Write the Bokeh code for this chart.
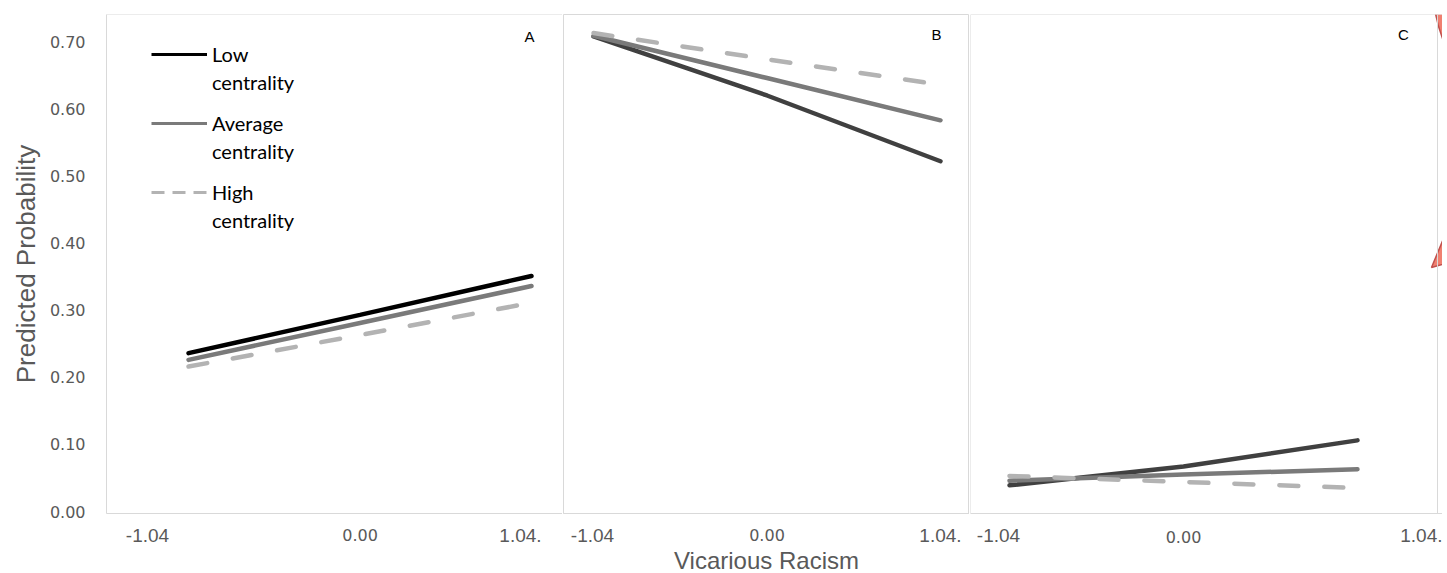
from bokeh.plotting import figure
from bokeh.layouts import row
from bokeh.models import (Range1d, FixedTicker, Label, Legend, LegendItem, Span,
                          PrintfTickFormatter, LinearAxis)
from bokeh.embed import file_html
from bokeh.resources import INLINE

# ---------------- data ----------------
x_points = [-1.04, 0.00, 1.04]
panel_names = ["A", "B", "C"]
series_first = ["Low", "Average", "High"]
series_second = "centrality"

a_low = [0.236, 0.293, 0.351]
a_avg = [0.226, 0.281, 0.336]
a_high = [0.216, 0.263, 0.311]

b_low = [0.708, 0.620, 0.522]
b_avg = [0.709, 0.646, 0.583]
b_high = [0.713, 0.674, 0.636]

c_low = [0.039, 0.067, 0.106]
c_avg = [0.046, 0.055, 0.063]
c_high = [0.053, 0.044, 0.035]

y_ticks = [0.0, 0.1, 0.2, 0.3, 0.4, 0.5, 0.6, 0.7]
x_tick_text = ["-1.04", "0.00", "1.04."]
y_title = "Predicted Probability"
x_title = "Vicarious Racism"

# ---------------- style ----------------
GRID = "#d9d9d9"
TXT = "#595959"
LOW_A = "#000000"
LOW_BC = "#404040"
AVG = "#7a7a7a"
HIGH = "#b3b3b3"
LW = 4.5
DASH = "19 26"
Y_RANGE = (-0.00298, 0.7407)
NAN = float("nan")


def base_fig(fw, xr, mbl, mbr, with_y):
    kw = dict(frame_width=fw, frame_height=499,
              x_range=Range1d(*xr), y_range=Range1d(*Y_RANGE),
              output_backend="svg", toolbar_location=None,
              min_border_left=mbl, min_border_right=mbr,
              min_border_top=14, min_border_bottom=53,
              background_fill_color="white", border_fill_color="white")
    if not with_y:
        kw["y_axis_location"] = None
    p = figure(**kw)
    p.grid.visible = False
    p.outline_line_color = None
    return p


def style_x(p, tick_pos, tick_labels, zero_standoff, title=None):
    ax = p.xaxis[0]
    ax.ticker = FixedTicker(ticks=tick_pos)
    ax.major_label_overrides = {tp: lab for tp, lab in zip(tick_pos, tick_labels)}
    ax.axis_line_color = GRID
    ax.major_tick_line_color = None
    ax.minor_tick_line_color = None
    ax.major_label_text_font = "Liberation Sans"
    ax.major_label_text_font_size = "19px"
    ax.major_label_text_color = TXT
    ax.major_label_standoff = 9
    # second axis, pulled up with a negative standoff, for the smaller "0.00" label
    z = LinearAxis(ticker=FixedTicker(ticks=[0.0]),
                   major_label_overrides={0.0: x_tick_text[1]},
                   axis_line_color=None, major_tick_line_color=None,
                   minor_tick_line_color=None, major_tick_out=0, major_tick_in=0,
                   major_label_text_font="DejaVu Sans",
                   major_label_text_font_size="16px",
                   major_label_text_color=TXT,
                   major_label_standoff=zero_standoff)
    if title:
        z.axis_label = title
        z.axis_label_text_font = "Liberation Sans"
        z.axis_label_text_font_size = "24px"
        z.axis_label_text_font_style = "normal"
        z.axis_label_text_color = TXT
        z.axis_label_standoff = 3
    p.add_layout(z, "below")


def panel_letter(p, x, y, t):
    p.add_layout(Label(x=x, y=y, text=t, text_align="center", text_baseline="middle",
                       text_font="Liberation Sans", text_font_size="15px",
                       text_color="#000000"))


def draw_lines(p, low, avg, high, low_color):
    r1 = p.line(x_points, low, line_color=low_color, line_width=LW, line_cap="round")
    r2 = p.line(x_points, avg, line_color=AVG, line_width=LW, line_cap="round")
    r3 = p.line(x_points, high, line_color=HIGH, line_width=LW, line_cap="round",
                line_dash=DASH)
    return r1, r2, r3


# ---------------- panel A ----------------
pA = base_fig(456, (-1.5375, 1.2280), 106, 0, True)
rA = draw_lines(pA, a_low, a_avg, a_high, LOW_A)
ya = pA.yaxis[0]
ya.ticker = FixedTicker(ticks=y_ticks)
ya.formatter = PrintfTickFormatter(format="%.2f")
ya.axis_line_color = GRID
ya.major_tick_line_color = None
ya.minor_tick_line_color = None
ya.major_label_text_font = "DejaVu Sans"
ya.major_label_text_font_size = "16px"
ya.major_label_text_color = TXT
ya.major_label_standoff = 15
ya.axis_label = y_title
ya.axis_label_text_font = "Liberation Sans"
ya.axis_label_text_font_size = "26px"
ya.axis_label_text_font_style = "normal"
ya.axis_label_text_color = TXT
ya.axis_label_standoff = 6
style_x(pA, [-1.289, 0.973], [x_tick_text[0], x_tick_text[2]], -16)
pA.add_layout(Span(location=Y_RANGE[1], dimension="width", line_color=GRID, line_width=1))
panel_letter(pA, 1.028, 0.708, panel_names[0])

# legend: one small legend per series so the sample line sits on the first text line
leg_colors = [LOW_A, AVG, HIGH]
leg_dash = ["solid", "solid", "13 8"]
leg_y = [417, 348, 279]
for i in range(3):
    g = pA.line([0.0], [NAN], line_color=leg_colors[i], line_width=3, line_dash=leg_dash[i])
    blank = pA.line([0.0], [NAN], line_alpha=0)
    pA.add_layout(Legend(items=[LegendItem(label=series_first[i], renderers=[g]),
                                LegendItem(label=series_second, renderers=[blank])],
                         location=(45, leg_y[i]), padding=0, margin=0, spacing=0,
                         border_line_color=None, background_fill_alpha=0,
                         glyph_width=56, glyph_height=28, label_height=28,
                         label_standoff=5, label_text_font="Lato",
                         label_text_font_size="20px", label_text_color="#000000"))

# ---------------- panel B ----------------
pB = base_fig(406, (-1.2200, 1.2140), 1, 0, False)
pB.outline_line_color = GRID
draw_lines(pB, b_low, b_avg, b_high, LOW_BC)
style_x(pB, [-1.046, 1.04], [x_tick_text[0], x_tick_text[2]], -16, title=x_title)
panel_letter(pB, 1.016, 0.711, panel_names[1])

# ---------------- panel C ----------------
pC = base_fig(472, (-1.2732, 1.5481), 1, 0, False)
# decorative callout shape at the right edge
pC.ellipse(x=[1.7215], y=[0.8077], width=[0.478], height=[0.298],
           fill_color="#f08070", line_color="#c0504d", line_width=1.5)
pC.patch(x=[1.584, 1.4823, 1.584], y=[0.4247, 0.3636, 0.3711],
         fill_color="#f08070", line_color="#c0504d", line_width=1.5)
draw_lines(pC, c_low, c_avg, c_high, LOW_BC)
style_x(pC, [-1.106, 1.434], [x_tick_text[0], x_tick_text[2]], -14)
panel_letter(pC, 1.315, 0.711, panel_names[2])
pC.add_layout(Span(location=Y_RANGE[1], dimension="width", line_color=GRID, line_width=1))
pC.add_layout(Span(location=-1.2732, dimension="height", line_color=GRID, line_width=1))
pC.add_layout(Span(location=1.5182, dimension="height", line_color=GRID, line_width=1))

layout = row(pA, pB, pC)
open("out.html", "w").write(file_html(layout, INLINE))
